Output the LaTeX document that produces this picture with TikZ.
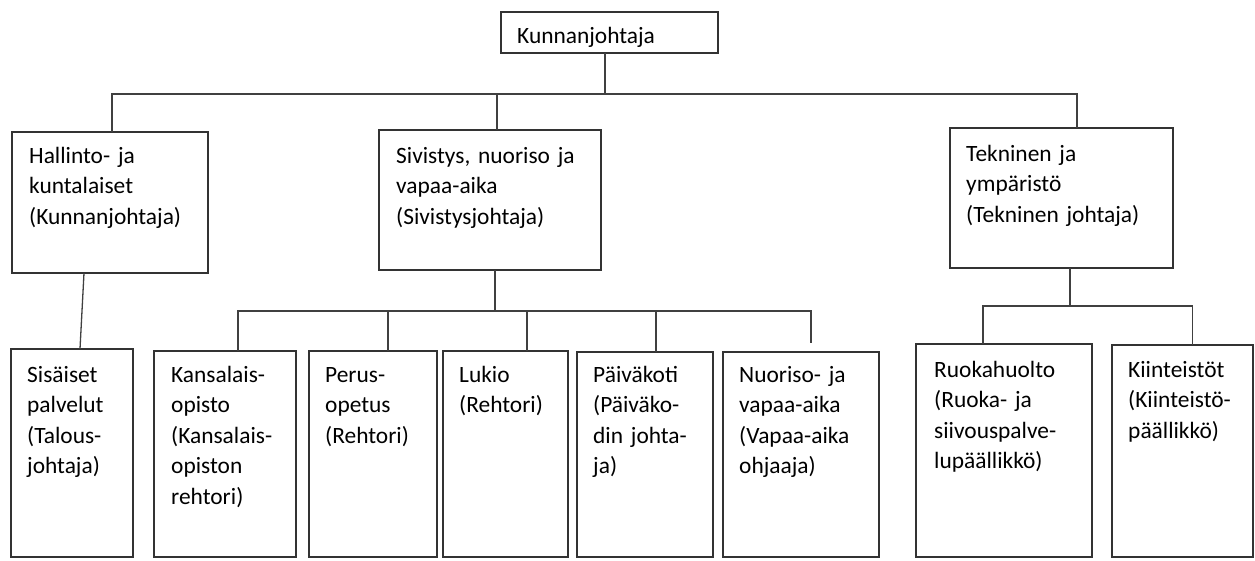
\documentclass[tikz,border=0pt]{standalone}
\usepackage{fontspec}
\setmainfont{Carlito}

\tikzset{
	orgbox/.style={draw=black!80, line width=1.3pt, anchor=north west, inner sep=0pt, outer sep=0pt},
	orgtext/.style={anchor=base west, inner sep=0pt, text width=300pt, align=left, font=\fontsize{23.4}{30.5}\selectfont},
	link/.style={draw=black!75, line width=1.3pt}
}

\begin{document}
\begin{tikzpicture}[x=1pt, y=-1pt]
	
	\useasboundingbox (0,0) rectangle (1255,560);
	
	% top
	\node[orgbox, minimum width=217pt, minimum height=41pt] (kj) at (501,12) {};
	\node[orgtext] (kj-t) at ([shift={(16,31)}]kj.north west) {Kunnanjohtaja};
	
	% second row
	\node[orgbox, minimum width=196pt, minimum height=141pt] (hal) at (12,132) {};
	\node[orgtext] (hal-t) at ([shift={(17,31)}]hal.north west) {Hallinto- ja\\kuntalaiset\\(Kunnanjohtaja)};
	\node[orgbox, minimum width=222pt, minimum height=140pt] (siv) at (379,130) {};
	\node[orgtext] (siv-t) at ([shift={(17,33)}]siv.north west) {Sivistys, nuoriso ja\\vapaa-aika\\(Sivistysjohtaja)};
	\node[orgbox, minimum width=223pt, minimum height=140pt] (tek) at (950,128) {};
	\node[orgtext] (tek-t) at ([shift={(16,33)}]tek.north west) {Tekninen ja\\ympäristö\\(Tekninen johtaja)};
	
	% third row
	\node[orgbox, minimum width=122pt, minimum height=208pt] (sis) at (11,349) {};
	\node[orgtext] (sis-t) at ([shift={(16,33)}]sis.north west) {Sisäiset\\palvelut\\(Talous-\\johtaja)};
	\node[orgbox, minimum width=142pt, minimum height=206pt] (kan) at (154,351) {};
	\node[orgtext] (kan-t) at ([shift={(17,31)}]kan.north west) {Kansalais-\\opisto\\(Kansalais-\\opiston\\rehtori)};
	\node[orgbox, minimum width=128pt, minimum height=206pt] (per) at (309,351) {};
	\node[orgtext] (per-t) at ([shift={(16,31)}]per.north west) {Perus-\\opetus\\(Rehtori)};
	\node[orgbox, minimum width=125pt, minimum height=206pt] (luk) at (443,351) {};
	\node[orgtext] (luk-t) at ([shift={(16,31)}]luk.north west) {Lukio\\(Rehtori)};
	\node[orgbox, minimum width=136pt, minimum height=205pt] (pai) at (577,352) {};
	\node[orgtext] (pai-t) at ([shift={(16,30)}]pai.north west) {Päiväkoti\\(Päiväko-\\din johta-\\ja)};
	\node[orgbox, minimum width=156pt, minimum height=205pt] (nuo) at (723,352) {};
	\node[orgtext] (nuo-t) at ([shift={(16,30)}]nuo.north west) {Nuoriso- ja\\vapaa-aika\\(Vapaa-aika\\ohjaaja)};
	\node[orgbox, minimum width=176pt, minimum height=213pt] (ruo) at (916,344) {};
	\node[orgtext] (ruo-t) at ([shift={(18,33)}]ruo.north west) {Ruokahuolto\\(Ruoka- ja\\siivouspalve-\\lupäällikkö)};
	\node[orgbox, minimum width=141pt, minimum height=212pt] (kii) at (1112,345) {};
	\node[orgtext] (kii-t) at ([shift={(16,32)}]kii.north west) {Kiinteistöt\\(Kiinteistö-\\päällikkö)};
	
	% lines
	\coordinate (bus1) at (605,94);
	\draw[link] (kj.south -| bus1) -- (bus1);
	\draw[link] ([xshift=2]hal.north) |- (bus1) -| ([xshift=15.5]tek.north);
	\draw[link] ([xshift=7]siv.north) -- ([xshift=7]siv.north |- bus1);
	
	\draw[link] ([xshift=-26]hal.south) -- ([xshift=8]sis.north);
	
	\coordinate (bus2) at (495,311);
	\draw[link] ([xshift=5]siv.south) -- (bus2);
	\draw[link] ([xshift=13]kan.north) |- (bus2) -| ([xshift=10,yshift=9]nuo.north);
	\foreach \n/\s in {per/15, luk/21.5, pai/11}
		\draw[link] ([xshift=\s]\n.north) -- ([xshift=\s]\n.north |- bus2);
	
	\coordinate (bus3) at (1070,306);
	\draw[link] ([xshift=8.5]tek.south) -- (bus3);
	\draw[link] ([xshift=-21]ruo.north) |- (bus3) -| ([xshift=10]kii.north);
	
\end{tikzpicture}
\end{document}
